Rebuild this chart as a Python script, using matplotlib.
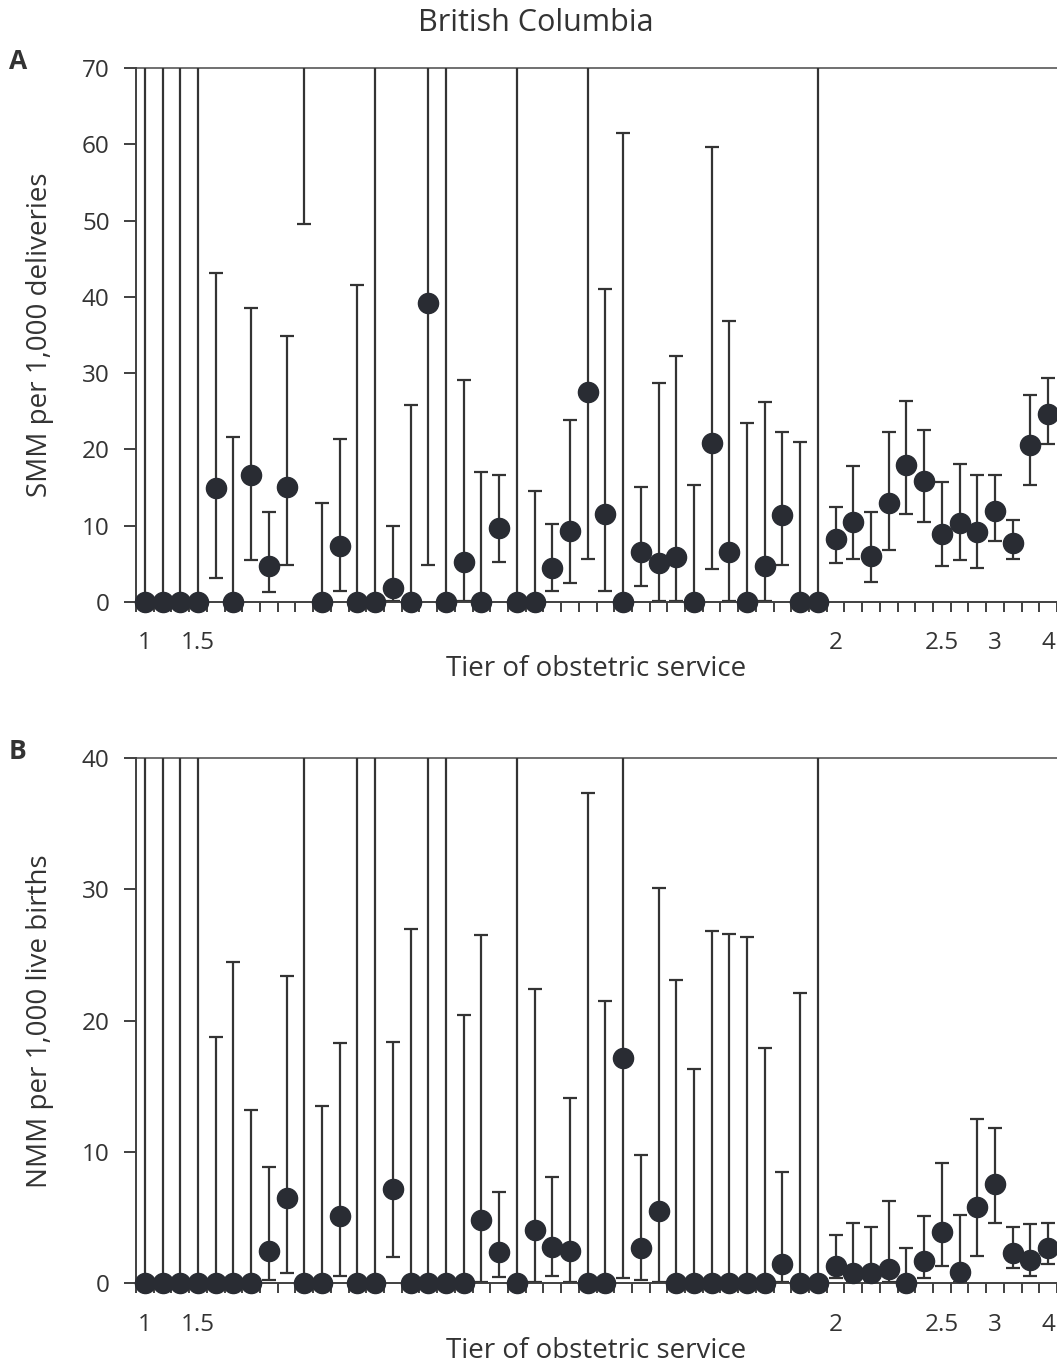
import numpy as np
import matplotlib
matplotlib.use("Agg")
import matplotlib.pyplot as plt

plt.rcParams['font.family'] = ['Open Sans', 'DejaVu Sans']

# tier label shown under each hospital (most are blank)
tier_labels = ["1", "", "", "1.5"] + [""] * 35 + ["2", "", "", "", "", "", "2.5", "", "", "3", "", "", "4"]

# Panel A: SMM per 1,000 deliveries (point, lower CI, upper CI)
smm = [0, 0, 0, 0, 15.0, 0, 16.7, 4.7, 15.1, 85.0,
       0, 7.4, 0, 0, 1.8, 0, 39.2, 0, 5.3, 0,
       9.7, 0, 0, 4.4, 9.3, 27.5, 11.6, 0, 6.5, 5.1,
       5.9, 0, 20.8, 6.6, 0, 4.7, 11.4, 0, 0, 8.2,
       10.5, 6.0, 13.0, 17.9, 15.8, 8.9, 10.4, 9.2, 11.9, 7.8,
       20.6, 24.7]
smm_lo = [0, 0, 0, 0, 3.1, 0, 5.5, 1.3, 4.9, 49.5,
          0, 1.5, 0, 0, 0.1, 0, 4.8, 0, 0.1, 0,
          5.2, 0, 0, 1.4, 2.5, 5.7, 1.4, 0, 2.1, 0.1,
          0.1, 0, 4.3, 0.1, 0, 0.1, 4.9, 0, 0, 5.1,
          5.6, 2.6, 6.8, 11.6, 10.5, 4.7, 5.5, 4.4, 8.0, 5.6,
          15.3, 20.7]
smm_hi = [120, 120, 120, 120, 43.1, 21.6, 38.6, 11.8, 34.9, 150,
          13.0, 21.4, 41.5, 120, 9.9, 25.8, 120, 120, 29.1, 17.0,
          16.6, 120, 14.6, 10.2, 23.8, 120, 41.0, 61.5, 15.1, 28.7,
          32.3, 15.3, 59.6, 36.8, 23.5, 26.2, 22.3, 21.0, 120, 12.4,
          17.8, 11.8, 22.3, 26.4, 22.6, 15.7, 18.1, 16.7, 16.6, 10.7,
          27.1, 29.3]

# Panel B: NMM per 1,000 live births
nmm = [0, 0, 0, 0, 0, 0, 0, 2.5, 6.5, 0,
       0, 5.1, 0, 0, 7.2, 0, 0, 0, 0, 4.8,
       2.4, 0, 4.1, 2.8, 2.5, 0, 0, 17.2, 2.7, 5.5,
       0, 0, 0, 0, 0, 0, 1.5, 0, 0, 1.3,
       0.8, 0.8, 1.1, 0, 1.7, 3.9, 0.9, 5.8, 7.6, 2.3,
       1.8, 2.7]
nmm_lo = [0, 0, 0, 0, 0, 0, 0, 0.3, 0.8, 0,
          0, 0.6, 0, 0, 2.0, 0, 0, 0, 0, 0.1,
          0.5, 0, 0.1, 0.6, 0.1, 0, 0, 0.4, 0.3, 0.1,
          0, 0, 0, 0, 0, 0, 0.1, 0, 0, 0.4,
          0.1, 0.1, 0.1, 0, 0.4, 1.3, 0.1, 2.1, 4.6, 1.2,
          0.6, 1.5]
nmm_hi = [80, 80, 80, 80, 18.8, 24.5, 13.2, 8.9, 23.4, 80,
          13.5, 18.3, 80, 80, 18.4, 27.0, 80, 80, 20.4, 26.5,
          7.0, 80, 22.4, 8.1, 14.1, 37.3, 21.5, 80, 9.8, 30.1,
          23.1, 16.3, 26.8, 26.6, 26.4, 17.9, 8.5, 22.1, 80, 3.7,
          4.6, 4.3, 6.3, 2.7, 5.1, 9.2, 5.2, 12.5, 11.8, 4.3,
          4.5, 4.6]

dark = '#292c33'
axis_col = '#404040'

fig = plt.figure(figsize=(10.57, 13.67), dpi=100)
ax_a = fig.add_axes([0.1287, 0.5596, 0.8713, 0.3907])
ax_b = fig.add_axes([0.1287, 0.0611, 0.8713, 0.3844])


def panel(ax, vals, lo, hi, ymax, ylabel, letter):
    x = np.arange(len(vals))
    v = np.array(vals, dtype=float)
    err = [v - np.array(lo), np.array(hi) - v]
    ax.errorbar(x, v, yerr=err, fmt='none', ecolor='#333333', elinewidth=1.6,
                capsize=5, capthick=1.6, zorder=2)
    shown = v <= ymax
    ax.plot(x[shown], v[shown], 'o', color=dark, markersize=14.5,
            clip_on=False, zorder=4)
    ax.axhline(ymax, color='#707070', lw=1.4, zorder=1, clip_on=False)
    ax.set_xlim(-0.5, len(vals) - 0.5)
    ax.set_ylim(0, ymax)
    ax.set_yticks(np.arange(0, ymax + 1, 10))
    ax.set_xticks(np.arange(-0.5, len(vals), 1))
    ax.set_xticklabels([])
    ax.set_xticks(x, tier_labels, minor=True)
    ax.tick_params(axis='x', which='major', length=7, width=1.4, color=axis_col, direction='out')
    ax.tick_params(axis='x', which='minor', length=0, pad=21, labelsize=17.5, labelcolor='#333333')
    ax.tick_params(axis='y', length=9, width=1.4, color=axis_col, labelsize=17.5,
                   labelcolor='#333333', pad=10)
    for s in ['top', 'right']:
        ax.spines[s].set_visible(False)
    for s in ['left', 'bottom']:
        ax.spines[s].set_color(axis_col)
        ax.spines[s].set_linewidth(1.4)
    ax.spines['bottom'].set_zorder(3)
    ax.set_xlabel('Tier of obstetric service', fontsize=20, color='#333333', labelpad=0)
    ax.set_ylabel(ylabel, fontsize=20, color='#333333', labelpad=20)
    ax.text(-0.138, 1.012, letter, transform=ax.transAxes, fontsize=19,
            fontweight='bold', color='#333333', ha='left', va='center')


panel(ax_a, smm, smm_lo, smm_hi, 70, 'SMM per 1,000 deliveries', 'A')
panel(ax_b, nmm, nmm_lo, nmm_hi, 40, 'NMM per 1,000 live births', 'B')

fig.text(0.507, 0.983, 'British Columbia', ha='center', va='center',
         fontsize=22, color='#333333')

fig.savefig('out.png', dpi=100)
